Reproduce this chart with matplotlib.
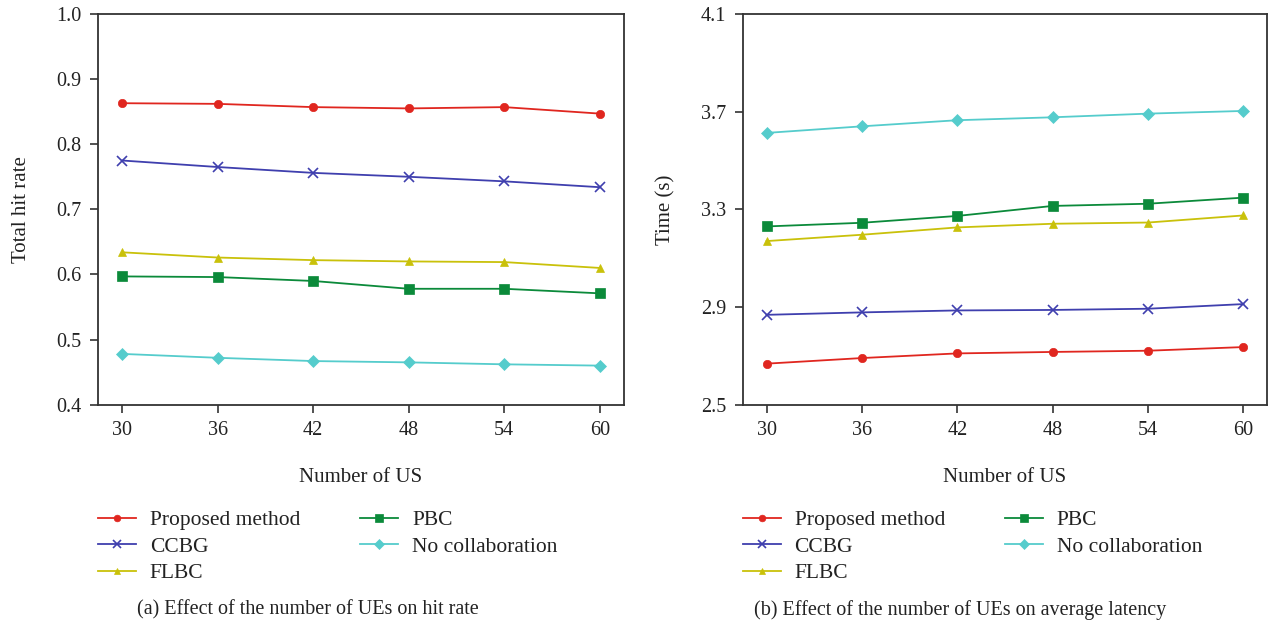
import matplotlib
matplotlib.use("Agg")
import matplotlib.pyplot as plt

plt.rcParams["font.family"] = ["Liberation Serif", "DejaVu Serif"]

# Data
n_us = [30, 36, 42, 48, 54, 60]
methods = ["Proposed method", "CCBG", "FLBC", "PBC", "No collaboration"]

hit_proposed = [0.863, 0.862, 0.857, 0.855, 0.857, 0.847]
hit_ccbg = [0.775, 0.765, 0.756, 0.750, 0.743, 0.734]
hit_flbc = [0.634, 0.626, 0.622, 0.620, 0.619, 0.610]
hit_pbc = [0.597, 0.596, 0.590, 0.578, 0.578, 0.571]
hit_nocol = [0.478, 0.472, 0.467, 0.465, 0.462, 0.460]

lat_proposed = [2.668, 2.691, 2.710, 2.716, 2.721, 2.736]
lat_ccbg = [2.868, 2.878, 2.886, 2.888, 2.893, 2.912]
lat_flbc = [3.170, 3.196, 3.226, 3.241, 3.246, 3.275]
lat_pbc = [3.230, 3.245, 3.273, 3.314, 3.323, 3.348]
lat_nocol = [3.613, 3.640, 3.665, 3.677, 3.692, 3.703]

colors = ["#e0261f", "#3f3fae", "#c9c10a", "#0b8a3a", "#55cccc"]
markers = ["o", "x", "^", "s", "D"]
msizes = [6, 6.5, 6, 7, 6]
INK = "#222222"

fig = plt.figure(figsize=(12.7, 6.25), dpi=100)
ax1 = fig.add_axes([0.0774, 0.3525, 0.4137, 0.6251])
ax2 = fig.add_axes([0.5848, 0.3525, 0.4131, 0.6251])


def draw(ax, series, ylim, yticks, ylabel):
    for vals, name, c, m, ms in zip(series, methods, colors, markers, msizes):
        ax.plot(n_us, vals, color=c, marker=m, markersize=ms, lw=1.3,
                markeredgewidth=1.2 if m == "x" else 0.5, label=name)
    ax.set_xlim(28.5, 61.5)
    ax.set_ylim(*ylim)
    ax.set_xticks(n_us)
    ax.set_yticks(yticks)
    ax.set_yticklabels([f"{t:.1f}" for t in yticks])
    ax.tick_params(direction="out", length=6, width=1.1, labelsize=14.5,
                   colors=INK, pad=6)
    for sp in ax.spines.values():
        sp.set_color("#333333")
        sp.set_linewidth(1.3)
    ax.set_xlabel("Number of US", fontsize=15, color=INK)
    ax.xaxis.set_label_coords(0.5, -0.163)
    ax.set_ylabel(ylabel, fontsize=15, color=INK)
    ax.yaxis.set_label_coords(-0.129, 0.5)


draw(ax1, [hit_proposed, hit_ccbg, hit_flbc, hit_pbc, hit_nocol],
     (0.4, 1.0), [0.4, 0.5, 0.6, 0.7, 0.8, 0.9, 1.0], "Total hit rate")
draw(ax2, [lat_proposed, lat_ccbg, lat_flbc, lat_pbc, lat_nocol],
     (2.5, 4.1), [2.5, 2.9, 3.3, 3.7, 4.1], "Time (s)")

for ax, x0 in ((ax1, 0.0772), (ax2, 0.585)):
    ax.legend(loc="upper left", bbox_to_anchor=(x0, 0.184),
              bbox_transform=fig.transFigure, ncol=2, frameon=False,
              fontsize=15.5, borderpad=0, borderaxespad=0, handlelength=1.75,
              handletextpad=0.65, columnspacing=2.8, labelspacing=0.3,
              labelcolor=INK, markerscale=0.8)

fig.text(308 / 1270, 0.024, "(a) Effect of the number of UEs on hit rate",
         ha="center", va="center", fontsize=14.5, color=INK)
fig.text(960 / 1270, 0.024, "(b) Effect of the number of UEs on average latency",
         ha="center", va="center", fontsize=14.5, color=INK)

fig.savefig("out.png", dpi=100, facecolor="white")
